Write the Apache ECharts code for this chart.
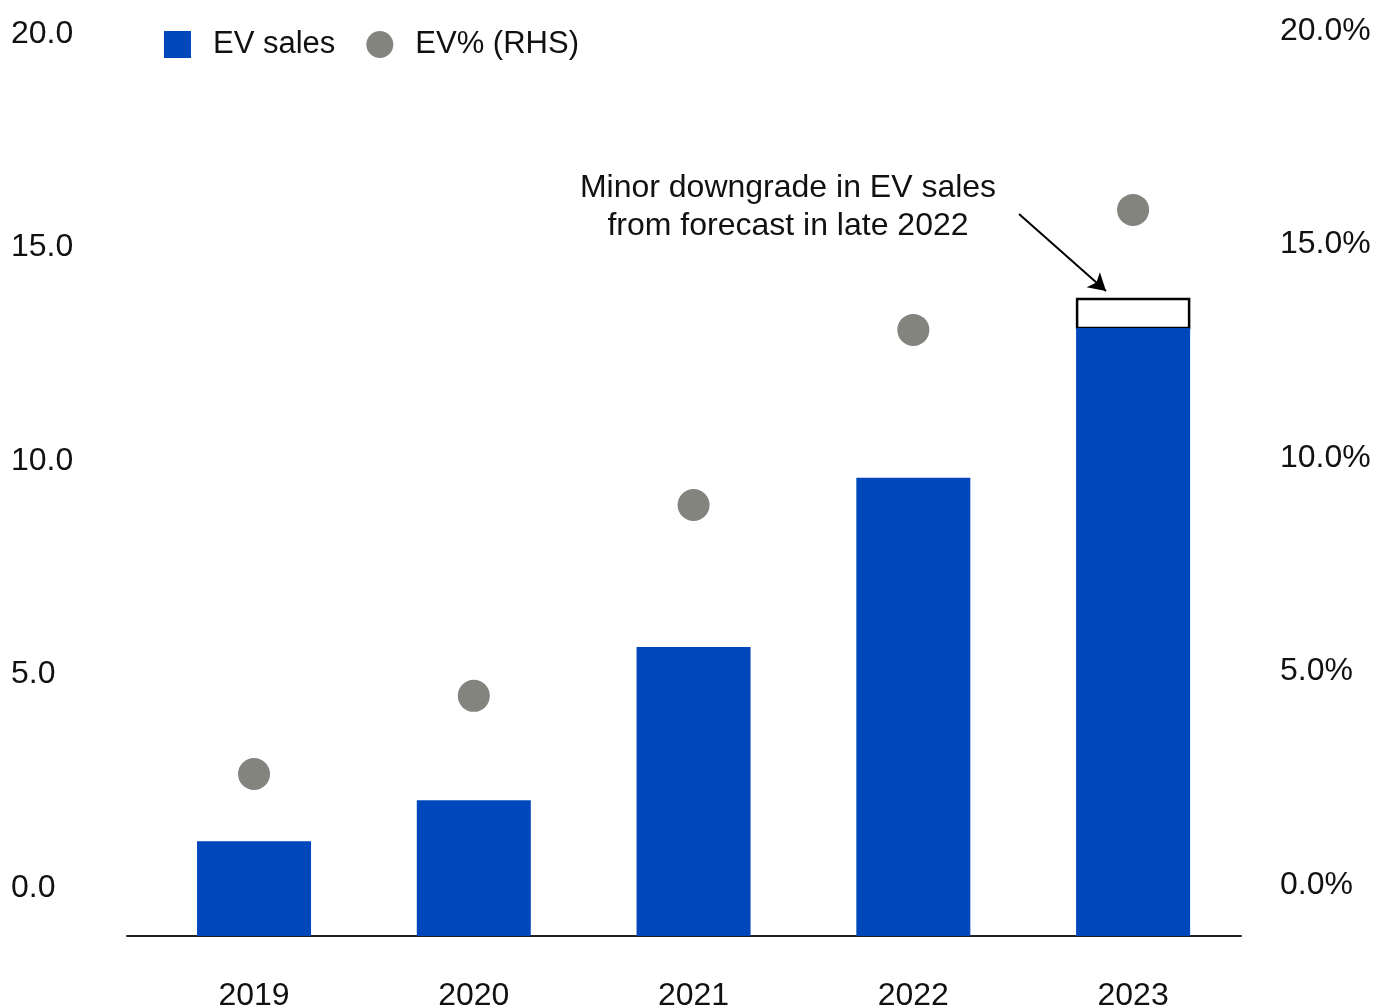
<!DOCTYPE html>
<html>
<head>
<meta charset="utf-8">
<script src="https://cdn.jsdelivr.net/npm/echarts@6/dist/echarts.min.js"></script>
<style>
  html, body { margin: 0; padding: 0; background: #fff; }
  #chart { width: 1377px; height: 1008px; }
</style>
</head>
<body>
<div id="chart"></div>
<script>
const years = ['2019', '2020', '2021', '2022', '2023'];
const evSales = [2.22, 3.18, 6.77, 10.73, 14.24];     // millions, bar
const downgrade = [0, 0, 0, 0, 0.68];                // forecast cut (white box)
const evShare = [2.60, 4.43, 8.90, 13.0, 15.81];     // %, RHS
const leftTicks = [0, 5, 10, 15, 20];
const rightTicks = [0, 5, 10, 15, 20];
const yearIdx = [0, 1, 2, 3, 4];

const font = 'Liberation Sans, Arial, Helvetica, sans-serif';
const chart = echarts.init(document.getElementById('chart'), null, { renderer: 'canvas' });

// white box on top of the blue bar = sales cut vs the late-2022 forecast
const boxData = evSales
    .map((v, i) => [i, v, v + downgrade[i]])
    .filter(d => downgrade[d[0]] > 0);

chart.setOption({
    animation: false,
    textStyle: { fontFamily: font, color: '#111' },
    grid: { left: 127, right: 136, top: 29, bottom: 72, containLabel: false, outerBoundsMode: 'none' },
    legend: {
        left: 159,
        top: 24,
        itemWidth: 27,
        itemHeight: 27,
        itemGap: 31,
        textStyle: { fontSize: 31, color: '#111', lineHeight: 27, padding: [0, 0, 0, 17] },
        data: [
            { name: 'EV sales', icon: 'rect' },
            { name: 'EV% (RHS)', icon: 'circle' }
        ]
    },
    xAxis: {
        type: 'value',
        min: -0.578,
        max: 4.491,
        splitLine: { show: false },
        axisTick: { show: false },
        axisLine: { show: true, lineStyle: { color: '#222', width: 2 } },
        axisLabel: {
            customValues: yearIdx,
            formatter: v => years[v],
            fontSize: 32,
            color: '#111',
            margin: 44
        }
    },
    yAxis: [
        {   // bars
            type: 'value', min: 0, max: 21.24, show: false
        },
        {   // RHS %
            type: 'value', position: 'right', min: -1.194, max: 20.046,
            splitLine: { show: false }, axisLine: { show: false }, axisTick: { show: false },
            axisLabel: {
                customValues: rightTicks,
                formatter: v => v.toFixed(1) + '%',
                fontSize: 32, color: '#111', margin: 39, align: 'left'
            }
        },
        {   // LHS labels
            type: 'value', position: 'left', min: -1.124, max: 20.116,
            splitLine: { show: false }, axisLine: { show: false }, axisTick: { show: false },
            axisLabel: {
                customValues: leftTicks,
                formatter: v => v.toFixed(1),
                fontSize: 32, color: '#111', margin: 116, align: 'left'
            }
        }
    ],
    series: [
        {
            name: 'EV sales',
            type: 'bar',
            yAxisIndex: 0,
            barWidth: 114,
            itemStyle: { color: '#0047BB' },
            data: evSales.map((v, i) => [i, v]),
            markLine: {
                silent: true,
                symbol: ['none', 'arrow'],
                symbolSize: [15, 17],
                label: { show: false },
                lineStyle: { color: '#000', width: 2, type: 'solid' },
                data: [[{ x: 1019, y: 214 }, { x: 1106, y: 291 }]]
            }
        },
        {
            name: 'Downgrade',
            type: 'custom',
            yAxisIndex: 0,
            data: boxData,
            renderItem: (params, api) => {
                const lo = api.coord([api.value(0), api.value(1)]);
                const hi = api.coord([api.value(0), api.value(2)]);
                return {
                    type: 'rect',
                    shape: { x: lo[0] - 56, y: hi[1], width: 112, height: lo[1] - hi[1] },
                    style: { fill: '#fff', stroke: '#000', lineWidth: 2.5 }
                };
            }
        },
        {
            name: 'EV% (RHS)',
            type: 'scatter',
            yAxisIndex: 1,
            symbolSize: 32,
            itemStyle: { color: '#83847e', opacity: 1 },
            data: evShare.map((v, i) => [i, v])
        }
    ],
    graphic: [
        {
            type: 'text',
            x: 788,
            y: 169,
            style: {
                text: 'Minor downgrade in EV sales\nfrom forecast in late 2022',
                fontSize: 32,
                fontFamily: font,
                lineHeight: 38,
                fill: '#111',
                align: 'center',
                verticalAlign: 'top'
            }
        }
    ]
});
</script>
</body>
</html>
